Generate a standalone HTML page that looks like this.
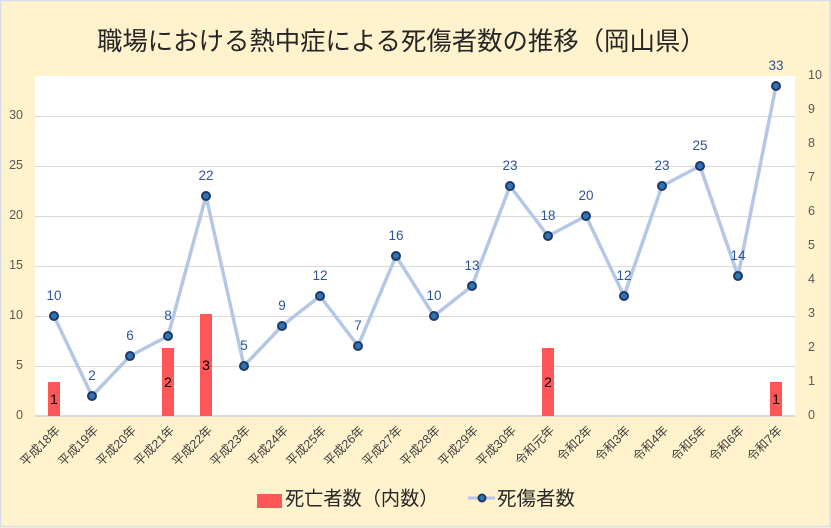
<!DOCTYPE html>
<html><head><meta charset="utf-8"><style>
html,body{margin:0;padding:0;background:#FFF2CC;}
svg{display:block;}
.ax{font-family:"Liberation Sans","Noto Sans CJK JP",sans-serif;font-size:12.5px;fill:#595959;}
.dl{font-family:"Liberation Sans",sans-serif;font-size:13.5px;fill:#2F5597;text-anchor:middle;}
.bl{font-family:"Liberation Sans",sans-serif;font-size:14px;fill:#000;text-anchor:middle;}
.xl{font-family:"Liberation Sans","Noto Sans CJK JP",sans-serif;font-size:12.3px;fill:#404040;text-anchor:end;}
.cj{font-family:"Liberation Sans","Noto Sans CJK JP",sans-serif;fill:#262626;}
</style></head><body>
<svg width="831" height="528" viewBox="0 0 831 528" xmlns="http://www.w3.org/2000/svg">
<rect x="0" y="0" width="831" height="528" fill="#FFF2CC"/>
<rect x="0.5" y="0.5" width="829.5" height="526" fill="none" stroke="#D6DEEA" stroke-width="1.5"/>
<text class="cj" x="97" y="50" font-size="25.4">職場における熱中症による死傷者数の推移（岡山県）</text>
<rect x="35" y="76" width="760" height="340" fill="#FFFFFF"/>
<g stroke="#D9D9D9" stroke-width="1">
<line x1="35" y1="116.5" x2="795" y2="116.5"/>
<line x1="35" y1="166.5" x2="795" y2="166.5"/>
<line x1="35" y1="216.5" x2="795" y2="216.5"/>
<line x1="35" y1="266.5" x2="795" y2="266.5"/>
<line x1="35" y1="316.5" x2="795" y2="316.5"/>
<line x1="35" y1="366.5" x2="795" y2="366.5"/>
</g>
<line x1="35" y1="416" x2="795" y2="416" stroke="#D9D9D9" stroke-width="2"/>
<g class="ax" text-anchor="end">
<text x="23" y="119">30</text>
<text x="23" y="169">25</text>
<text x="23" y="219">20</text>
<text x="23" y="269">15</text>
<text x="23" y="319">10</text>
<text x="23" y="369">5</text>
<text x="23" y="419">0</text>
</g>
<g class="ax" text-anchor="start">
<text x="808" y="79">10</text>
<text x="808" y="113">9</text>
<text x="808" y="147">8</text>
<text x="808" y="181">7</text>
<text x="808" y="215">6</text>
<text x="808" y="249">5</text>
<text x="808" y="283">4</text>
<text x="808" y="317">3</text>
<text x="808" y="351">2</text>
<text x="808" y="385">1</text>
<text x="808" y="419">0</text>
</g>
<g fill="#FF5757">
<rect x="48" y="382" width="12" height="34"/>
<rect x="162" y="348" width="12" height="68"/>
<rect x="200" y="314" width="12" height="102"/>
<rect x="542" y="348" width="12" height="68"/>
<rect x="770" y="382" width="12" height="34"/>
</g>
<g class="bl">
<text x="54" y="404">1</text>
<text x="168" y="387">2</text>
<text x="206" y="370">3</text>
<text x="548" y="387">2</text>
<text x="776" y="404">1</text>
</g>
<polyline fill="none" stroke="#B4C7E7" stroke-width="3.5" stroke-linejoin="round" points="54,316 92,396 130,356 168,336 206,196 244,366 282,326 320,296 358,346 396,256 434,316 472,286 510,186 548,236 586,216 624,296 662,186 700,166 738,276 776,86"/>
<g fill="#2E75B6" stroke="#1F3864" stroke-width="2">
<circle cx="54" cy="316" r="4"/><circle cx="92" cy="396" r="4"/><circle cx="130" cy="356" r="4"/><circle cx="168" cy="336" r="4"/><circle cx="206" cy="196" r="4"/><circle cx="244" cy="366" r="4"/><circle cx="282" cy="326" r="4"/><circle cx="320" cy="296" r="4"/><circle cx="358" cy="346" r="4"/><circle cx="396" cy="256" r="4"/><circle cx="434" cy="316" r="4"/><circle cx="472" cy="286" r="4"/><circle cx="510" cy="186" r="4"/><circle cx="548" cy="236" r="4"/><circle cx="586" cy="216" r="4"/><circle cx="624" cy="296" r="4"/><circle cx="662" cy="186" r="4"/><circle cx="700" cy="166" r="4"/><circle cx="738" cy="276" r="4"/><circle cx="776" cy="86" r="4"/>
</g>
<g class="dl">
<text x="54" y="300">10</text>
<text x="92" y="380">2</text>
<text x="130" y="340">6</text>
<text x="168" y="320">8</text>
<text x="206" y="180">22</text>
<text x="244" y="350">5</text>
<text x="282" y="310">9</text>
<text x="320" y="280">12</text>
<text x="358" y="330">7</text>
<text x="396" y="240">16</text>
<text x="434" y="300">10</text>
<text x="472" y="270">13</text>
<text x="510" y="170">23</text>
<text x="548" y="220">18</text>
<text x="586" y="200">20</text>
<text x="624" y="280">12</text>
<text x="662" y="170">23</text>
<text x="700" y="150">25</text>
<text x="738" y="260">14</text>
<text x="776" y="70">33</text>
</g>
<g class="xl">
<text transform="translate(61,431) rotate(-45)">平成18年</text>
<text transform="translate(99,431) rotate(-45)">平成19年</text>
<text transform="translate(137,431) rotate(-45)">平成20年</text>
<text transform="translate(175,431) rotate(-45)">平成21年</text>
<text transform="translate(213,431) rotate(-45)">平成22年</text>
<text transform="translate(251,431) rotate(-45)">平成23年</text>
<text transform="translate(289,431) rotate(-45)">平成24年</text>
<text transform="translate(327,431) rotate(-45)">平成25年</text>
<text transform="translate(365,431) rotate(-45)">平成26年</text>
<text transform="translate(403,431) rotate(-45)">平成27年</text>
<text transform="translate(441,431) rotate(-45)">平成28年</text>
<text transform="translate(479,431) rotate(-45)">平成29年</text>
<text transform="translate(517,431) rotate(-45)">平成30年</text>
<text transform="translate(555,431) rotate(-45)">令和元年</text>
<text transform="translate(593,431) rotate(-45)">令和2年</text>
<text transform="translate(631,431) rotate(-45)">令和3年</text>
<text transform="translate(669,431) rotate(-45)">令和4年</text>
<text transform="translate(707,431) rotate(-45)">令和5年</text>
<text transform="translate(745,431) rotate(-45)">令和6年</text>
<text transform="translate(783,431) rotate(-45)">令和7年</text>
</g>
<rect x="257" y="494" width="25" height="14" fill="#FF5757"/>
<text class="cj" x="285" y="505" font-size="19.2">死亡者数（内数）</text>
<line x1="468" y1="498" x2="495" y2="498" stroke="#B4C7E7" stroke-width="3"/>
<circle cx="482" cy="498" r="3.5" fill="#2E75B6" stroke="#1F3864" stroke-width="2"/>
<text class="cj" x="497" y="505" font-size="19.5">死傷者数</text>
</svg>
</body></html>
